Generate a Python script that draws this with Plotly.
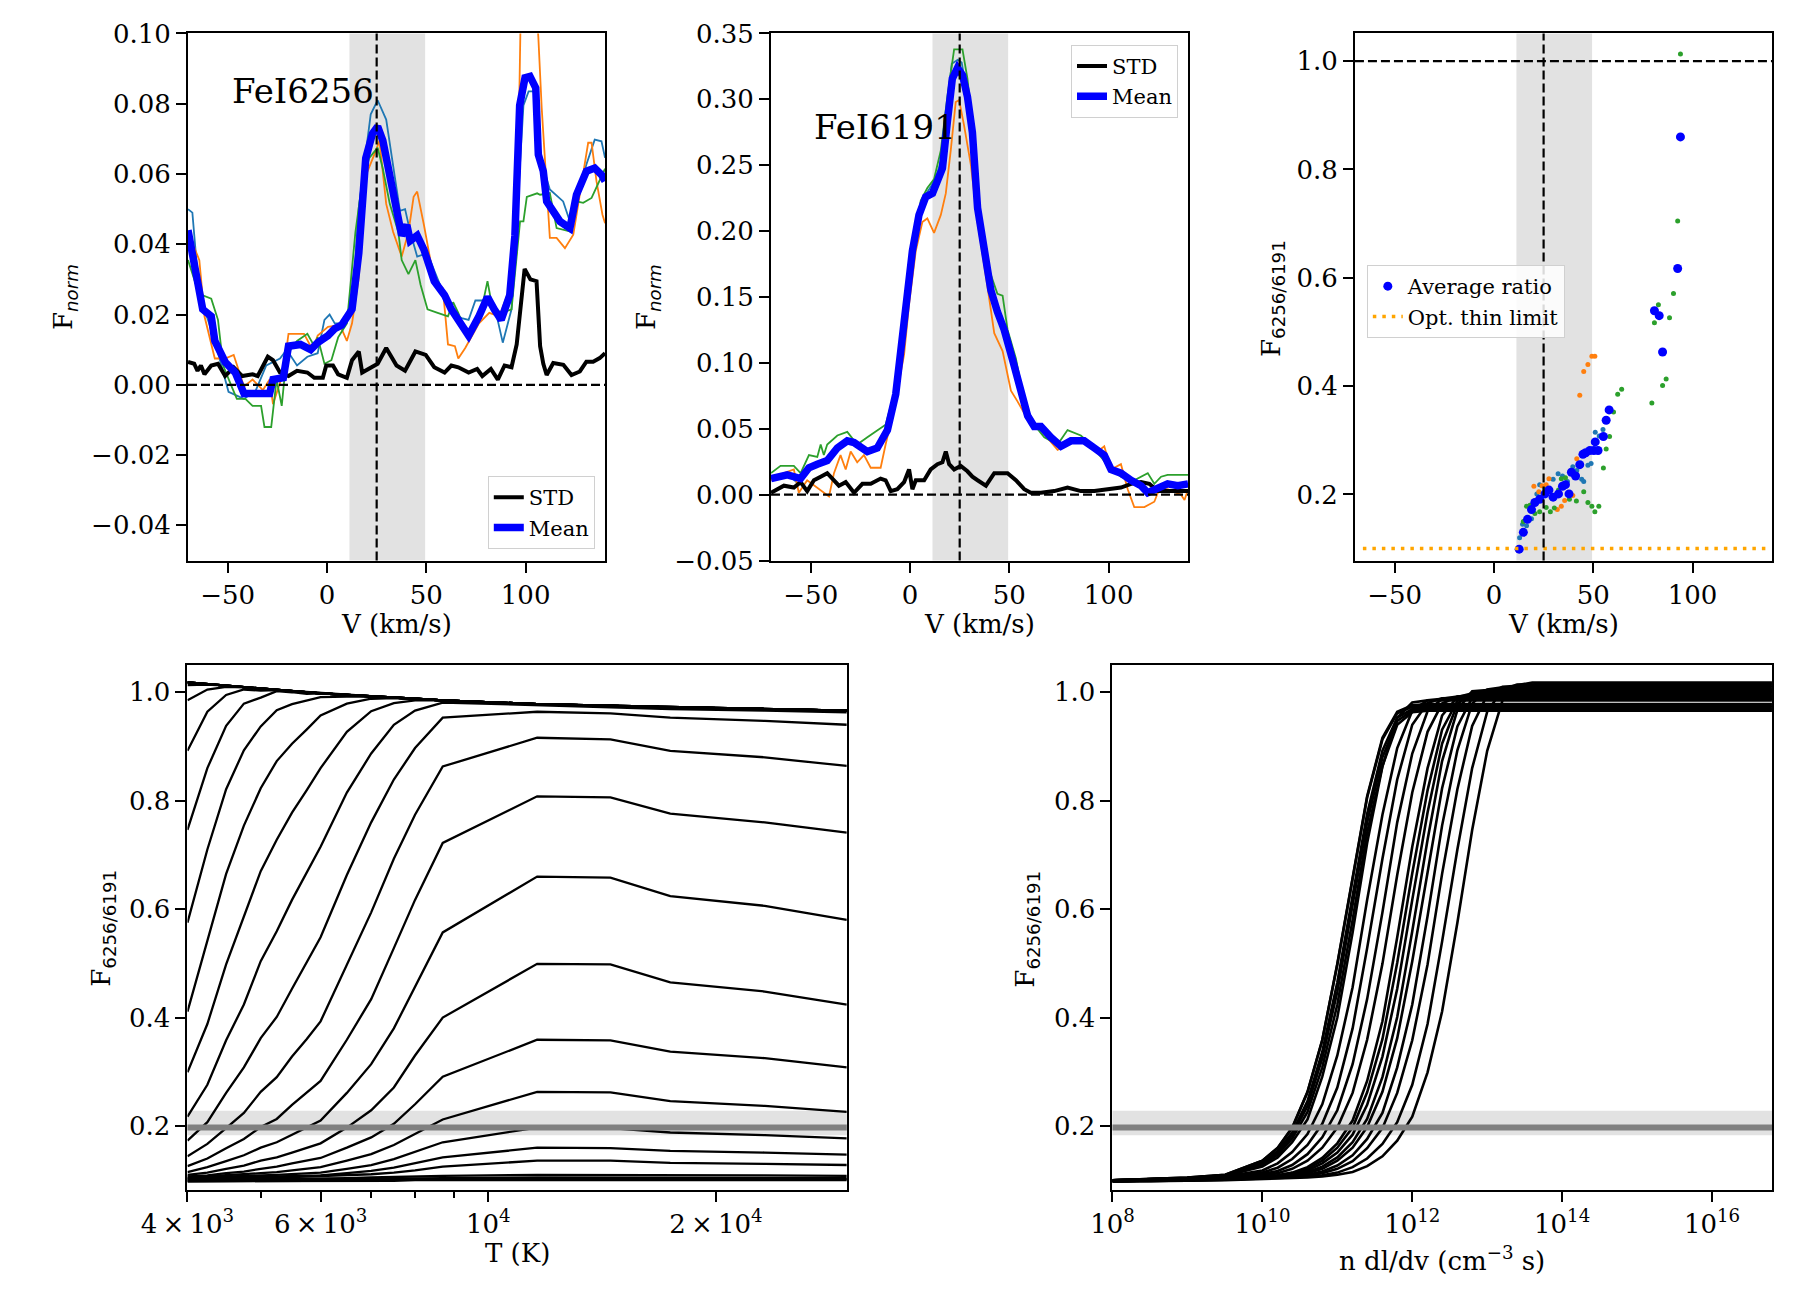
import math
import plotly.graph_objects as go

# ---------------- FeI 6256 line profiles (top left) ----------------
v_6256_mean = [-70, -65.2, -62.6, -58.3, -56.5, -51.3, -46.2, -41.8, -35.8, -28.9, -27.2, -22, -19.4, -13.4, -8.2,
               -4.7, 0.5, 3.9, 7.4, 10.8, 12.6, 16, 19.5, 22.9, 25.5, 28.1, 31.6, 35, 37.6, 40.2, 41.9, 45.4, 48.8,
               54, 59.2, 62.6, 66.1, 71.3, 76.5, 80.8, 84.2, 87.7, 92, 94.6, 97.0, 99.7, 102.2, 105.1, 106.4, 108.9,
               110.6, 113.9, 117.3, 122.3, 125.6, 130.6, 134.8, 138.2, 140]
f_6256_mean = [0.044, 0.0295, 0.0215, 0.0195, 0.0125, 0.0065, 0.0035, -0.0025, -0.0025, -0.0025, 0.0015, 0.002, 0.011,
               0.0115, 0.010, 0.012, 0.014, 0.016, 0.017, 0.0195, 0.0215, 0.0375, 0.0645, 0.0715, 0.0735, 0.0695,
               0.0595, 0.0515, 0.0425, 0.0455, 0.041, 0.0425, 0.0385, 0.0295, 0.0255, 0.0215, 0.0185, 0.014, 0.0195,
               0.025, 0.0215, 0.0185, 0.0255, 0.0425, 0.0795, 0.0874, 0.0878, 0.0845, 0.0655, 0.0608, 0.0522, 0.0489,
               0.0465, 0.0446, 0.0541, 0.0608, 0.0617, 0.0598, 0.058]

v_6256_a = [-70, -67.8, -65.2, -61.7, -56.5, -49.6, -41.8, -35.8, -30.6, -23.7, -20.3, -15.1, -9.9, -4.7, -1.3, 1.3,
            3.9, 8.2, 12.6, 16, 22, 25.5, 29.8, 33.3, 36.7, 39.3, 41.9, 45.4, 50.6, 54, 57.5, 62.6, 67.8, 71.3, 74.7,
            79.9, 85.1, 88.5, 92.9, 95.5, 98.9, 101.5, 104.1, 106, 112.2, 118.9, 122.3, 125.6, 130.6, 134.8, 138.2,
            140]
f_6256_a = [0.050, 0.049, 0.0315, 0.0215, 0.0125, -0.002, -0.004, -0.0015, 0.0055, 0.0075, 0.010, 0.0055, 0.008,
            0.009, 0.0185, 0.020, 0.0175, 0.0175, 0.0215, 0.0505, 0.077, 0.081, 0.0755, 0.0625, 0.0495, 0.050, 0.0435,
            0.0365, 0.0375, 0.0325, 0.0275, 0.0205, 0.019, 0.0185, 0.024, 0.024, 0.0205, 0.012, 0.0215, 0.0475,
            0.0795, 0.0835, 0.0835, 0.0674, 0.0556, 0.0522, 0.0465, 0.0527, 0.0627, 0.0698, 0.0693, 0.0646]

v_6256_b = [-70, -64.3, -61.7, -56.5, -51.3, -47, -41.8, -37.5, -32.3, -28.9, -27.2, -22, -19.4, -11.6, -7.3, -4.7,
            0.5, 6.5, 10, 12.6, 16, 19.5, 23.8, 26.4, 29.8, 33.3, 37.6, 41, 43.6, 45.4, 48.8, 54, 58.3, 60.9, 64.4,
            66.1, 69.6, 76.5, 81.7, 86.8, 92, 95.5, 97.5, 100, 104, 106.4, 108.1, 112.2, 115.6, 119.8, 124, 128.1,
            131.5, 133.2, 135.7, 138.7, 140]
f_6256_b = [0.0435, 0.0355, 0.0195, 0.0075, 0.0075, 0.0085, -0.0005, 0.0015, -0.0015, 0.0015, -0.0055, 0.0035, 0.0145,
            0.0145, 0.010, 0.014, 0.0165, 0.017, 0.0125, 0.0175, 0.0305, 0.0595, 0.0655, 0.0695, 0.0515, 0.0435,
            0.0365, 0.0435, 0.0535, 0.055, 0.0455, 0.0295, 0.0275, 0.0115, 0.011, 0.0075, 0.0105, 0.0175, 0.0205,
            0.0195, 0.0275, 0.0375, 0.105, 0.125, 0.118, 0.099, 0.0788, 0.0418, 0.0418, 0.0389, 0.0427, 0.057, 0.0689,
            0.0689, 0.0579, 0.0484, 0.046]

v_6256_c = [-70, -66, -62.6, -58.3, -54.9, -52.3, -48, -45.4, -41.1, -37.5, -33.2, -31.5, -28.1, -25.4, -22.8, -20.3,
            -15.1, -9.9, -6.4, -4.7, -1.3, 2.2, 5.6, 10, 14.3, 17.7, 21.2, 25.5, 28.1, 31.6, 35.9, 37.6, 41, 44.5,
            47.1, 50.6, 55.7, 60.9, 63.5, 66.1, 71.3, 76.5, 80.8, 83.4, 88.5, 92.9, 97.2, 98.9, 100.6, 105.8, 107.3,
            112.2, 115.6, 122.3, 125.6, 129, 133.2, 136.5, 140]
f_6256_c = [0.0355, 0.0285, 0.0255, 0.0245, 0.0185, 0.0055, -0.0005, -0.004, -0.004, -0.006, -0.006, -0.012, -0.012,
            0.0015, -0.006, 0.0085, 0.0125, 0.0145, 0.011, 0.0135, 0.006, 0.007, 0.0135, 0.0175, 0.0435, 0.0575,
            0.0645, 0.0675, 0.0615, 0.0515, 0.0435, 0.0355, 0.0315, 0.0355, 0.0285, 0.0215, 0.0205, 0.0195, 0.0235,
            0.0205, 0.013, 0.018, 0.0295, 0.0215, 0.0205, 0.0215, 0.0465, 0.0465, 0.0535, 0.0545, 0.0541, 0.0546,
            0.0446, 0.0437, 0.0522, 0.0518, 0.0532, 0.057, 0.0615]

v_6256_std = [-70, -66.9, -65.2, -63.5, -61.7, -58.3, -54.9, -51.3, -47, -42.7, -37.5, -34.9, -29.8, -27.2, -23.7,
              -19.4, -15.1, -9.9, -6.4, -2.1, -0.4, 3, 5.6, 10, 12.6, 16, 17.7, 21.2, 25.5, 29.8, 35, 39.3, 44.5, 49.7,
              54, 59.2, 62.6, 66.1, 71.3, 75.6, 78.2, 82.5, 86, 89.4, 92.9, 95.5, 99.5, 102.4, 105.5, 107.3, 108.9,
              110.6, 113.9, 119, 123.1, 127.3, 130.6, 134, 137.3, 140]
f_6256_std = [0.0065, 0.006, 0.004, 0.0055, 0.003, 0.0055, 0.006, 0.0025, 0.005, 0.0025, 0.003, 0.0025, 0.008, 0.007,
              0.0035, 0.0025, 0.004, 0.0035, 0.002, 0.002, 0.0055, 0.0055, 0.003, 0.002, 0.007, 0.0095, 0.0035,
              0.0045, 0.006, 0.0105, 0.0055, 0.004, 0.0095, 0.0085, 0.005, 0.0035, 0.0055, 0.005, 0.0035, 0.0045,
              0.0025, 0.0045, 0.0015, 0.0055, 0.005, 0.0115, 0.033, 0.030, 0.0295, 0.011, 0.006, 0.0028, 0.0062,
              0.0057, 0.0028, 0.0038, 0.0066, 0.0066, 0.0076, 0.009]

# ---------------- FeI 6191 line profiles (top middle) ----------------
v_6191_mean = [-70, -61.8, -55.1, -50.9, -46.7, -41.7, -36.6, -31.6, -28.2, -21.5, -16.5, -11.4, -7.2, -4.7, -1.3, 1.2,
               4.5, 7.9, 11.3, 13.8, 16.3, 18.8, 21.3, 23.9, 26.4, 28.9, 31.4, 34, 37.3, 40.7, 44, 47.4, 52.4, 55.8,
               59.2, 62.5, 65.9, 70.9, 76, 81, 87.7, 92.8, 97.8, 101.2, 106.2, 111.3, 116.3, 119.7, 124.7, 129.7,
               134.8, 140]
f_6191_mean = [0.0122, 0.015, 0.0122, 0.0204, 0.0231, 0.0259, 0.0354, 0.0408, 0.0395, 0.0327, 0.0354, 0.049, 0.0762,
               0.1116, 0.147, 0.185, 0.2123, 0.2259, 0.2286, 0.2395, 0.2477, 0.2831, 0.3157, 0.3239, 0.3185, 0.3021,
               0.2749, 0.2177, 0.1851, 0.1551, 0.1388, 0.1252, 0.098, 0.0762, 0.0599, 0.0517, 0.0517, 0.0435, 0.0367,
               0.0408, 0.0408, 0.0354, 0.0299, 0.0191, 0.0163, 0.0109, 0.0068, 0.0014, 0.0054, 0.0082, 0.0068, 0.0082]

v_6191_a = [-70, -62, -56, -50, -44, -38, -32, -26, -20, -15, -11, -7, -4, -1, 2, 5, 8, 11, 14, 17, 19, 21, 24, 26, 28,
            31, 34, 37, 40, 44, 47, 52, 56, 59, 63, 66, 71, 76, 81, 88, 93, 98, 101, 106, 111, 116, 120, 125, 130, 135,
            140]
f_6191_a = [0.012, 0.016, 0.008, 0.022, 0.025, 0.032, 0.04, 0.038, 0.034, 0.038, 0.048, 0.075, 0.11, 0.148, 0.19,
            0.215, 0.228, 0.235, 0.245, 0.262, 0.3, 0.327, 0.33, 0.328, 0.31, 0.275, 0.22, 0.185, 0.157, 0.14, 0.128,
            0.1, 0.077, 0.06, 0.052, 0.05, 0.043, 0.035, 0.04, 0.04, 0.036, 0.028, 0.018, 0.017, 0.012, 0.008, 0.002,
            0.006, 0.009, 0.007, 0.008]

v_6191_b = [-70, -63.5, -58.5, -56, -51.8, -46.7, -40.8, -38.3, -35, -32.4, -29.9, -26.6, -23.2, -19.8, -14.8, -12.3,
            -8.1, -3, -0.5, 2.9, 6.2, 8.7, 12.1, 15.5, 18, 20.5, 23, 24.7, 27.2, 30.6, 34, 39, 42.4, 46.6, 50.8, 54.1,
            59.2, 65.9, 74.3, 81, 87.7, 94.5, 97.8, 101.2, 104.5, 106.2, 109.6, 112.9, 118, 123, 125.5, 129.7, 136.4,
            138.2, 140]
f_6191_b = [0.0109, 0.0163, 0.0191, 0.0014, 0.0109, 0.0054, -0.0014, 0.0163, 0.03, 0.0191, 0.0327, 0.0245, 0.03,
            0.0204, 0.0204, 0.038, 0.0653, 0.1062, 0.1443, 0.1851, 0.2069, 0.2096, 0.1987, 0.2123, 0.2286, 0.2613,
            0.298, 0.2994, 0.2803, 0.2504, 0.2069, 0.1579, 0.1225, 0.1089, 0.0789, 0.0708, 0.0572, 0.049, 0.034,
            0.0395, 0.0395, 0.0327, 0.0367, 0.0191, 0.0218, 0.0231, 0.0041, -0.0095, -0.0095, -0.0054, 0.0041, 0.0041,
            0.0, -0.0041, 0.0041]

v_6191_c = [-70, -65.2, -58.5, -55.1, -50.9, -46.7, -45, -43.4, -41.7, -36.6, -31.6, -26.6, -21.5, -16.5, -12.3, -8.1,
            -4.7, -1.3, 2, 5.4, 8.7, 12.1, 15.5, 18.8, 22.2, 26.4, 28.9, 31.4, 34, 39, 44, 46.6, 49.1, 53.3, 57.5,
            62.5, 67.6, 74.3, 79.3, 86, 91.1, 96.1, 101.2, 106.2, 112.9, 119.7, 123, 126.4, 129.7, 140]
f_6191_c = [0.0163, 0.0218, 0.0218, 0.0163, 0.03, 0.0286, 0.038, 0.03, 0.038, 0.0449, 0.0476, 0.038, 0.0435, 0.049,
            0.0531, 0.0762, 0.1116, 0.152, 0.193, 0.2232, 0.2327, 0.2395, 0.2613, 0.3021, 0.338, 0.338, 0.3157, 0.2803,
            0.2259, 0.1742, 0.1524, 0.151, 0.1252, 0.1034, 0.0708, 0.0531, 0.0435, 0.038, 0.049, 0.0449, 0.038,
            0.0286, 0.0191, 0.0136, 0.0109, 0.0163, 0.0082, 0.0136, 0.015, 0.015]

v_6191_std = [-70, -63.5, -58.5, -55.1, -51.8, -48.4, -45, -41.7, -38.3, -35.8, -32.4, -28.2, -24, -19.8, -14.8, -12.3,
              -9.7, -6.4, -3, -0.5, 1.2, 2.9, 7.1, 10.4, 13.8, 16.3, 18, 19.7, 22.2, 25.5, 28.9, 31.4, 34, 38.2, 42.4,
              46.6, 49.1, 53.3, 57.5, 60.8, 65.9, 72.6, 79.3, 86, 92.8, 99.5, 106.2, 111.3, 116.3, 120.5, 124.7, 129.7,
              140]
f_6191_std = [0.0014, 0.0068, 0.0054, 0.0095, 0.0027, 0.0109, 0.0136, 0.0163, 0.0109, 0.0068, 0.0095, 0.0014, 0.0082,
              0.0082, 0.0122, 0.0109, 0.0027, 0.0041, 0.0095, 0.0191, 0.0041, 0.0109, 0.0109, 0.0191, 0.0231, 0.0245,
              0.0327, 0.0231, 0.0191, 0.0218, 0.0177, 0.0136, 0.0109, 0.0068, 0.0163, 0.0163, 0.0163, 0.0109, 0.0041,
              0.0014, 0.0014, 0.0027, 0.0054, 0.0027, 0.0027, 0.0041, 0.0054, 0.0082, 0.0095, 0.0082, 0.0027, 0.0027,
              0.0027]

# ---------------- line ratio vs velocity (top right) ----------------
v_ratio_avg = [12.7, 14.8, 16.9, 18.9, 20.6, 23, 25.7, 27.7, 29.8, 32.5, 34.5, 36, 37.8, 39, 41.1, 43.2, 44.8, 46.2,
               48.3, 50.3, 51, 52.4, 55.1, 56.5, 58, 80.8, 83.2, 84.9, 92.5, 93.9]
r_ratio_avg = [0.099, 0.130, 0.154, 0.172, 0.185, 0.191, 0.201, 0.208, 0.195, 0.201, 0.215, 0.218, 0.201, 0.241,
               0.234, 0.255, 0.274, 0.277, 0.281, 0.281, 0.297, 0.281, 0.307, 0.337, 0.356, 0.539, 0.530, 0.463,
               0.617, 0.860]
v_ratio_a = [12.9, 14.4, 16.4, 18.9, 21.6, 23, 25.7, 29.8, 32.3, 34.5, 37, 39.7, 41.7, 44.2, 45.2, 47.3, 48.9, 51, 53,
             54.9]
r_ratio_a = [0.12, 0.145, 0.142, 0.155, 0.201, 0.218, 0.211, 0.228, 0.238, 0.234, 0.224, 0.251, 0.244, 0.228, 0.224,
             0.254, 0.257, 0.315, 0.308, 0.320]
v_ratio_b = [12.7, 20.1, 22.6, 24.2, 26.3, 27.7, 31.9, 33.9, 35.6, 39.7, 41.7, 43.2, 45.2, 47.3, 49.3, 50.8]
r_ratio_b = [0.1, 0.215, 0.205, 0.216, 0.218, 0.229, 0.172, 0.178, 0.189, 0.198, 0.266, 0.383, 0.427, 0.440, 0.455,
             0.455]
v_ratio_c = [14.8, 16.4, 18.1, 19.5, 20.6, 23, 26.3, 28.4, 30.4, 32.5, 33.9, 36, 38, 41.5, 45.2, 47.3, 49.3, 50.8,
             52.8, 55.1, 56.5, 58.2, 60.2, 62.3, 64.3, 79.5, 80.8, 82.8, 84.9, 86.7, 88.4, 90.4, 92.5, 93.9]
r_ratio_c = [0.150, 0.178, 0.180, 0.182, 0.165, 0.168, 0.176, 0.168, 0.175, 0.208, 0.229, 0.231, 0.191, 0.188, 0.205,
             0.185, 0.178, 0.168, 0.178, 0.249, 0.284, 0.307, 0.352, 0.385, 0.394, 0.369, 0.517, 0.550, 0.401, 0.413,
             0.526, 0.571, 0.705, 1.013]
thin_limit_v = [-66, 137]
thin_limit_r = [0.1, 0.1]

v_centre = 25
v_band = [11.3, 49.4]
ratio_obs = 0.197
ratio_obs_band = [0.183, 0.228]

# ---------------- model grid: ratio(T, n dl/dv) (bottom panels) ----------------
temps_K = [4000, 4250, 4500, 4750, 5000, 5250, 5500, 5750, 6000, 6500, 7000, 7500, 8000, 8704, 11605, 14506, 17407,
           23210, 29800]
n_dldv = [1e8, 3.2e8, 1e9, 3.2e9, 1e10, 1.6e10, 2.5e10, 4e10, 6.3e10, 1e11, 1.6e11, 2.5e11, 4e11, 6.3e11, 1e12,
          1.6e12, 2.5e12, 4e12, 6.3e12, 1e13, 1.6e13, 2.5e13, 4e13, 6.3e13, 1e14, 3.2e14, 1e15, 3.2e15, 1e16, 6.3e16]
ratio_grid = [
    [0.098, 0.098, 0.099, 0.100, 0.102, 0.103, 0.104, 0.105, 0.107, 0.110, 0.115, 0.126, 0.144, 0.173, 0.217, 0.299,
     0.411, 0.575, 0.746, 0.892, 0.985, 1.013, 1.018, 1.018, 1.018, 1.018, 1.018, 1.018, 1.018, 1.018],
    [0.098, 0.098, 0.099, 0.101, 0.103, 0.104, 0.105, 0.107, 0.109, 0.114, 0.124, 0.140, 0.167, 0.207, 0.276, 0.388,
     0.540, 0.710, 0.860, 0.964, 1.005, 1.014, 1.015, 1.015, 1.015, 1.015, 1.015, 1.015, 1.015, 1.015],
    [0.098, 0.098, 0.100, 0.101, 0.104, 0.105, 0.106, 0.109, 0.113, 0.121, 0.135, 0.159, 0.196, 0.261, 0.358, 0.498,
     0.665, 0.821, 0.938, 0.995, 1.010, 1.012, 1.012, 1.012, 1.012, 1.012, 1.012, 1.012, 1.012, 1.012],
    [0.098, 0.099, 0.100, 0.102, 0.104, 0.105, 0.107, 0.110, 0.116, 0.127, 0.146, 0.176, 0.224, 0.308, 0.424, 0.587,
     0.754, 0.893, 0.979, 1.005, 1.009, 1.009, 1.009, 1.009, 1.009, 1.009, 1.009, 1.009, 1.009, 1.009],
    [0.098, 0.099, 0.100, 0.102, 0.105, 0.106, 0.109, 0.113, 0.121, 0.136, 0.160, 0.198, 0.263, 0.362, 0.504, 0.670,
     0.823, 0.937, 0.990, 1.003, 1.006, 1.006, 1.006, 1.006, 1.006, 1.006, 1.006, 1.006, 1.006, 1.006],
    [0.098, 0.099, 0.101, 0.103, 0.105, 0.107, 0.110, 0.115, 0.125, 0.142, 0.170, 0.213, 0.290, 0.401, 0.559, 0.728,
     0.873, 0.967, 1.002, 1.004, 1.004, 1.004, 1.004, 1.004, 1.004, 1.004, 1.004, 1.004, 1.004, 1.004],
    [0.098, 0.099, 0.101, 0.103, 0.106, 0.108, 0.111, 0.118, 0.131, 0.151, 0.184, 0.239, 0.328, 0.453, 0.617, 0.778,
     0.905, 0.978, 1.000, 1.002, 1.002, 1.002, 1.002, 1.002, 1.002, 1.002, 1.002, 1.002, 1.002, 1.002],
    [0.098, 0.099, 0.101, 0.103, 0.106, 0.109, 0.113, 0.121, 0.136, 0.160, 0.197, 0.262, 0.360, 0.501, 0.666, 0.819,
     0.931, 0.984, 0.997, 1.000, 1.000, 1.000, 1.000, 1.000, 1.000, 1.000, 1.000, 1.000, 1.000, 1.000],
    [0.098, 0.100, 0.101, 0.103, 0.107, 0.109, 0.114, 0.124, 0.141, 0.168, 0.210, 0.283, 0.393, 0.548, 0.715, 0.860,
     0.957, 0.991, 0.998, 0.998, 0.998, 0.998, 0.998, 0.998, 0.998, 0.998, 0.998, 0.998, 0.998, 0.998],
    [0.099, 0.100, 0.102, 0.104, 0.109, 0.113, 0.121, 0.136, 0.160, 0.197, 0.261, 0.359, 0.499, 0.663, 0.815, 0.927,
     0.979, 0.992, 0.995, 0.995, 0.995, 0.995, 0.995, 0.995, 0.995, 0.995, 0.995, 0.995, 0.995, 0.995],
    [0.099, 0.101, 0.102, 0.105, 0.111, 0.117, 0.128, 0.148, 0.179, 0.229, 0.314, 0.434, 0.594, 0.760, 0.887, 0.965,
     0.988, 0.992, 0.992, 0.992, 0.992, 0.992, 0.992, 0.992, 0.992, 0.992, 0.992, 0.992, 0.992, 0.992],
    [0.099, 0.101, 0.103, 0.106, 0.114, 0.123, 0.139, 0.165, 0.204, 0.271, 0.380, 0.528, 0.693, 0.839, 0.940, 0.980,
     0.989, 0.990, 0.990, 0.990, 0.990, 0.990, 0.990, 0.990, 0.990, 0.990, 0.990, 0.990, 0.990, 0.990],
    [0.100, 0.101, 0.103, 0.107, 0.118, 0.131, 0.152, 0.185, 0.240, 0.330, 0.456, 0.617, 0.774, 0.897, 0.966, 0.985,
     0.988, 0.988, 0.988, 0.988, 0.988, 0.988, 0.988, 0.988, 0.988, 0.988, 0.988, 0.988, 0.988, 0.988],
    [0.100, 0.102, 0.104, 0.108, 0.125, 0.142, 0.170, 0.212, 0.291, 0.400, 0.557, 0.722, 0.863, 0.953, 0.981, 0.985,
     0.985, 0.985, 0.985, 0.985, 0.985, 0.985, 0.985, 0.985, 0.985, 0.985, 0.985, 0.985, 0.985, 0.985],
    [0.100, 0.102, 0.105, 0.110, 0.136, 0.160, 0.197, 0.263, 0.359, 0.499, 0.660, 0.808, 0.916, 0.964, 0.976, 0.978,
     0.978, 0.978, 0.978, 0.978, 0.978, 0.978, 0.978, 0.978, 0.978, 0.978, 0.978, 0.978, 0.978, 0.978],
    [0.100, 0.102, 0.105, 0.110, 0.136, 0.159, 0.196, 0.262, 0.358, 0.498, 0.658, 0.806, 0.913, 0.961, 0.973, 0.975,
     0.975, 0.975, 0.975, 0.975, 0.975, 0.975, 0.975, 0.975, 0.975, 0.975, 0.975, 0.975, 0.975, 0.975],
    [0.100, 0.102, 0.104, 0.109, 0.132, 0.154, 0.188, 0.246, 0.337, 0.465, 0.624, 0.776, 0.892, 0.953, 0.969, 0.972,
     0.972, 0.972, 0.972, 0.972, 0.972, 0.972, 0.972, 0.972, 0.972, 0.972, 0.972, 0.972, 0.972, 0.972],
    [0.100, 0.102, 0.104, 0.109, 0.130, 0.151, 0.183, 0.237, 0.325, 0.448, 0.606, 0.760, 0.880, 0.947, 0.966, 0.969,
     0.969, 0.969, 0.969, 0.969, 0.969, 0.969, 0.969, 0.969, 0.969, 0.969, 0.969, 0.969, 0.969, 0.969],
    [0.100, 0.102, 0.104, 0.108, 0.128, 0.147, 0.177, 0.226, 0.308, 0.424, 0.580, 0.741, 0.864, 0.940, 0.963, 0.966,
     0.966, 0.966, 0.966, 0.966, 0.966, 0.966, 0.966, 0.966, 0.966, 0.966, 0.966, 0.966, 0.966, 0.966],
]

FONT = "DejaVu Serif"
TAB_BLUE, TAB_ORANGE, TAB_GREEN = "#1f77b4", "#ff7f0e", "#2ca02c"
BAND = "rgba(128,128,128,0.23)"

fig = go.Figure()


def line(x, y, color, width, ax, name=None, legend=None):
    fig.add_trace(go.Scatter(
        x=x, y=y, mode="lines", name=name, line=dict(color=color, width=width),
        xaxis="x" + ax, yaxis="y" + ax, showlegend=name is not None,
        legend=legend,
    ))


# spectra panels
line(v_6256_a, f_6256_a, TAB_BLUE, 1.8, "")
line(v_6256_b, f_6256_b, TAB_ORANGE, 1.8, "")
line(v_6256_c, f_6256_c, TAB_GREEN, 1.8, "")
line(v_6256_std, f_6256_std, "black", 4, "", "STD", "legend")
line(v_6256_mean, f_6256_mean, "blue", 7.5, "", "Mean", "legend")

line(v_6191_a, f_6191_a, TAB_BLUE, 1.8, "2")
line(v_6191_b, f_6191_b, TAB_ORANGE, 1.8, "2")
line(v_6191_c, f_6191_c, TAB_GREEN, 1.8, "2")
line(v_6191_std, f_6191_std, "black", 4, "2", "STD", "legend2")
line(v_6191_mean, f_6191_mean, "blue", 7.5, "2", "Mean", "legend2")

# ratio panel
for vx, ry, col in [(v_ratio_a, r_ratio_a, TAB_BLUE), (v_ratio_b, r_ratio_b, TAB_ORANGE),
                    (v_ratio_c, r_ratio_c, TAB_GREEN)]:
    fig.add_trace(go.Scatter(x=vx, y=ry, mode="markers", marker=dict(color=col, size=5),
                             xaxis="x3", yaxis="y3", showlegend=False))
fig.add_trace(go.Scatter(x=v_ratio_avg, y=r_ratio_avg, mode="markers", name="Average ratio",
                         marker=dict(color="blue", size=9), xaxis="x3", yaxis="y3", legend="legend3"))
fig.add_trace(go.Scatter(x=thin_limit_v, y=thin_limit_r, mode="lines", name="Opt. thin limit",
                         line=dict(color="orange", width=3.5, dash="3.5px,6px"),
                         xaxis="x3", yaxis="y3", legend="legend3"))

# model grid: one curve per column density vs T, one curve per T vs column density
for j in range(len(n_dldv)):
    fig.add_trace(go.Scatter(x=temps_K, y=[row[j] for row in ratio_grid], mode="lines",
                             line=dict(color="black", width=2.3), xaxis="x4", yaxis="y4", showlegend=False))
for i in range(len(temps_K)):
    fig.add_trace(go.Scatter(x=n_dldv, y=ratio_grid[i], mode="lines",
                             line=dict(color="black", width=2.6), xaxis="x5", yaxis="y5", showlegend=False))

# ---------------- axes ----------------
TOP = [0.575, 0.9804]
BOT = [0.0908, 0.4944]


def axis(domain, rng, anchor, **kw):
    d = dict(domain=domain, range=rng, anchor=anchor, showline=True, linecolor="black", linewidth=2,
             mirror=True, ticks="outside", ticklen=10, tickwidth=2, tickcolor="black", showgrid=False,
             zeroline=False, automargin=False, tickfont=dict(family=FONT, size=26, color="black"))
    d.update(kw)
    return d


vel_ticks = dict(tickmode="array", tickvals=[-50, 0, 50, 100], ticktext=["\u221250", "0", "50", "100"])
ratio_ticks = dict(tickmode="array", tickvals=[0.2, 0.4, 0.6, 0.8, 1.0],
                   ticktext=["0.2", "0.4", "0.6", "0.8", "1.0"])

layout_axes = dict(
    xaxis=axis([0.1, 0.3317], [-70, 140], "y", **vel_ticks),
    yaxis=axis(TOP, [-0.05, 0.10], "x", tickmode="array",
               tickvals=[-0.04, -0.02, 0, 0.02, 0.04, 0.06, 0.08, 0.10],
               ticktext=["\u22120.04", "\u22120.02", "0.00", "0.02", "0.04", "0.06", "0.08", "0.10"]),
    xaxis2=axis([0.4239, 0.6556], [-70, 140], "y2", **vel_ticks),
    yaxis2=axis(TOP, [-0.05, 0.35], "x2", tickmode="array",
                tickvals=[-0.05, 0, 0.05, 0.10, 0.15, 0.20, 0.25, 0.30, 0.35],
                ticktext=["\u22120.05", "0.00", "0.05", "0.10", "0.15", "0.20", "0.25", "0.30", "0.35"]),
    xaxis3=axis([0.7483, 0.98], [-70, 140], "y3", **vel_ticks),
    yaxis3=axis(TOP, [0.078, 1.051], "x3", **ratio_ticks),
    xaxis4=axis([0.0997, 0.466], [math.log10(4000), math.log10(29800)], "y4", type="log", tickmode="array",
                tickvals=[4000, 6000, 10000, 20000],
                ticktext=["4\u2009\u00d7\u200910<sup>3</sup>", "6\u2009\u00d7\u200910<sup>3</sup>",
                          "10<sup>4</sup>", "2\u2009\u00d7\u200910<sup>4</sup>"],
                minor=dict(tickmode="array", tickvals=[5000, 7000, 8000, 9000], ticks="outside",
                           ticklen=6, tickwidth=1.5, tickcolor="black")),
    yaxis4=axis(BOT, [0.082, 1.0497], "x4", **ratio_ticks),
    xaxis5=axis([0.6136, 0.98], [8, 16.8], "y5", type="log", tickmode="array",
                tickvals=[1e8, 1e10, 1e12, 1e14, 1e16],
                ticktext=["10<sup>8</sup>", "10<sup>10</sup>", "10<sup>12</sup>", "10<sup>14</sup>",
                          "10<sup>16</sup>"]),
    yaxis5=axis(BOT, [0.082, 1.0497], "x5", **ratio_ticks),
)

# ---------------- shapes ----------------
shapes = []
for ax in ["", "2", "3"]:
    shapes.append(dict(type="rect", xref="x" + ax, yref="y" + ax + " domain", x0=v_band[0], x1=v_band[1],
                       y0=0, y1=1, fillcolor=BAND, line=dict(width=0), layer="below"))
    shapes.append(dict(type="line", xref="x" + ax, yref="y" + ax + " domain", x0=v_centre, x1=v_centre,
                       y0=0, y1=1, line=dict(color="black", width=2.2, dash="9px,4px"), layer="above"))
for ax, yv in [("", 0), ("2", 0), ("3", 1.0)]:
    shapes.append(dict(type="line", xref="x" + ax + " domain", yref="y" + ax, x0=0, x1=1, y0=yv, y1=yv,
                       line=dict(color="black", width=2.2, dash="9px,4px"), layer="above"))
for ax in ["4", "5"]:
    shapes.append(dict(type="rect", xref="x" + ax + " domain", yref="y" + ax, x0=0, x1=1,
                       y0=ratio_obs_band[0], y1=ratio_obs_band[1], fillcolor=BAND, line=dict(width=0),
                       layer="below"))
    shapes.append(dict(type="line", xref="x" + ax + " domain", yref="y" + ax, x0=0, x1=1,
                       y0=ratio_obs, y1=ratio_obs, line=dict(color="gray", width=6), layer="above"))

# ---------------- text ----------------
ytitle_norm = 'F<sub><span style="font-family:DejaVu Sans"><i>norm</i></span></sub>'
ytitle_ratio = 'F<sub><span style="font-family:DejaVu Sans">6256/6191</span></sub>'


def label(text, x, y, angle=0, size=26, **kw):
    d = dict(text=text, x=x, y=y, xref="paper", yref="paper", showarrow=False, textangle=angle,
             font=dict(family=FONT, size=size, color="black"), xanchor="center", yanchor="middle")
    d.update(kw)
    return d


annotations = [
    label("V (km/s)", 0.2158, 0.5262),
    label("V (km/s)", 0.5397, 0.5262),
    label("V (km/s)", 0.8642, 0.5262),
    label("T (K)", 0.2828, 0.0423),
    label("n dl/dv (cm<sup>\u22123</sup> s)", 0.7967, 0.0377),
    label(ytitle_norm, 0.0317, 0.7777, angle=-90),
    label(ytitle_norm, 0.3556, 0.7777, angle=-90),
    label(ytitle_ratio, 0.7022, 0.7769, angle=-90),
    label(ytitle_ratio, 0.0528, 0.2918, angle=-90),
    label(ytitle_ratio, 0.5661, 0.2918, angle=-90),
    dict(text="FeI6256", x=-49, y=0.0835, xref="x", yref="y", showarrow=False, xanchor="left",
         yanchor="middle", font=dict(family=FONT, size=34, color="black")),
    dict(text="FeI6191", x=-49.2, y=0.279, xref="x2", yref="y2", showarrow=False, xanchor="left",
         yanchor="middle", font=dict(family=FONT, size=34, color="black")),
]

legend_style = dict(font=dict(family=FONT, size=21, color="black"), bgcolor="rgba(255,255,255,0.85)",
                    bordercolor="#d0d0d0", borderwidth=1)

fig.update_layout(
    width=1800, height=1300,
    margin=dict(l=0, r=0, t=0, b=0),
    paper_bgcolor="white", plot_bgcolor="white",
    font=dict(family=FONT, color="black"),
    shapes=shapes,
    annotations=annotations,
    legend=dict(x=0.326, y=0.5838, xanchor="right", yanchor="bottom", **legend_style),
    legend2=dict(x=0.65, y=0.9717, xanchor="right", yanchor="top", **legend_style),
    legend3=dict(x=0.7549, y=0.8023, xanchor="left", yanchor="top", **legend_style),
    **layout_axes,
)

fig.write_html("out.html")
